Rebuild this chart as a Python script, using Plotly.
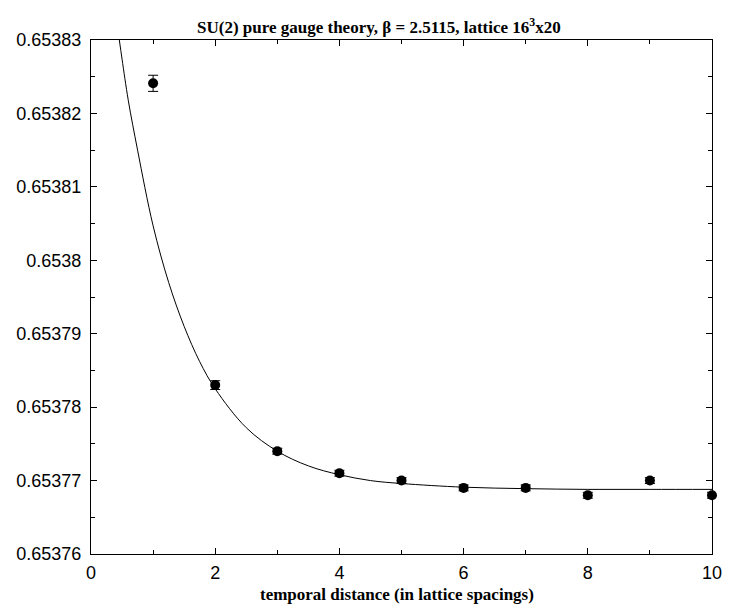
import plotly.graph_objects as go

# data points
t_vals = [1, 2, 3, 4, 5, 6, 7, 8, 9, 10]
corr_vals = [0.6538241, 0.653783, 0.653774, 0.653771, 0.65377, 0.653769, 0.653769, 0.653768, 0.65377, 0.653768]
corr_err = [1.1e-6, 0.6e-6, 0.4e-6, 0.4e-6, 0.4e-6, 0.4e-6, 0.4e-6, 0.4e-6, 0.4e-6, 0.4e-6]

# fit curve samples
fit_x = [0.456, 0.5, 0.6, 0.75, 1.0, 1.25, 1.5, 1.75, 2.0, 2.5, 3.0, 3.5, 4.0, 4.5, 5.0, 6.0, 7.0, 8.0, 9.0, 10.0]
fit_y = [0.65383, 0.6538274, 0.6538218, 0.653815, 0.6538047, 0.653797, 0.653791, 0.6537862, 0.6537825,
         0.6537772, 0.653774, 0.653772, 0.6537708, 0.65377, 0.6537696, 0.6537691, 0.6537689, 0.6537688,
         0.6537688, 0.6537688]

y_tickvals = [0.65376, 0.65377, 0.65378, 0.65379, 0.6538, 0.65381, 0.65382, 0.65383]
y_ticktext = ["0.65376", "0.65377", "0.65378", "0.65379", "0.6538", "0.65381", "0.65382", "0.65383"]
y_minorvals = [0.653765, 0.653775, 0.653785, 0.653795, 0.653805, 0.653815, 0.653825]
x_tickvals = [0, 2, 4, 6, 8, 10]
x_ticktext = ["0", "2", "4", "6", "8", "10"]

title_text = "SU(2) pure gauge theory, \u03b2 = 2.5115, lattice 16<sup>3</sup>x20"
xlabel_text = "temporal distance (in lattice spacings)"

fig = go.Figure()
fig.add_trace(go.Scatter(x=fit_x, y=fit_y, mode="lines", line=dict(color="black", width=1, shape="spline"),
                         showlegend=False, hoverinfo="skip"))
fig.add_trace(go.Scatter(x=t_vals, y=corr_vals, mode="markers",
                         marker=dict(color="black", size=10),
                         error_y=dict(type="data", array=corr_err, color="black", thickness=1, width=5),
                         showlegend=False, cliponaxis=False))

W, H = 733, 611
L, R, T, B = 90.5, 11, 39.5, 57
plot_w = W - L - R
plot_h = H - T - B


def px_to_paper_x(px):
    return (px - L) / plot_w


def px_to_paper_y(py):
    return (H - B - py) / plot_h


serif = dict(family="Liberation Serif, Times New Roman, serif", size=17, color="black")

fig.update_layout(
    width=W, height=H,
    margin=dict(l=L, r=R, t=T, b=B),
    paper_bgcolor="white", plot_bgcolor="white",
    font=dict(family="Liberation Sans, Arial, sans-serif", size=16, color="black"),
    xaxis=dict(range=[0, 10], tickvals=x_tickvals, ticktext=x_ticktext, ticks="inside", ticklen=6,
               tickcolor="black", showline=True, linecolor="black", linewidth=1, mirror="ticks",
               showgrid=False, zeroline=False, ticklabelstandoff=2,
               minor=dict(dtick=1, ticks="inside", ticklen=4, tickcolor="black", showgrid=False),
               tickfont=dict(size=18)),
    yaxis=dict(range=[0.65376, 0.65383], tickvals=y_tickvals, ticktext=y_ticktext, ticks="inside", ticklen=6,
               tickcolor="black", showline=True, linecolor="black", linewidth=1, mirror="ticks",
               showgrid=False, zeroline=False, ticklabelstandoff=5,
               minor=dict(tickvals=y_minorvals, ticks="inside", ticklen=4, tickcolor="black", showgrid=False),
               tickfont=dict(size=18)),
    annotations=[
        dict(text="<b>" + title_text + "</b>", x=px_to_paper_x(383), y=px_to_paper_y(25),
             xref="paper", yref="paper", xanchor="center", yanchor="middle", showarrow=False, font=serif),
        dict(text="<b>" + xlabel_text + "</b>", x=px_to_paper_x(402), y=px_to_paper_y(595),
             xref="paper", yref="paper", xanchor="center", yanchor="middle", showarrow=False, font=serif),
    ],
)

fig.write_html("out.html")
